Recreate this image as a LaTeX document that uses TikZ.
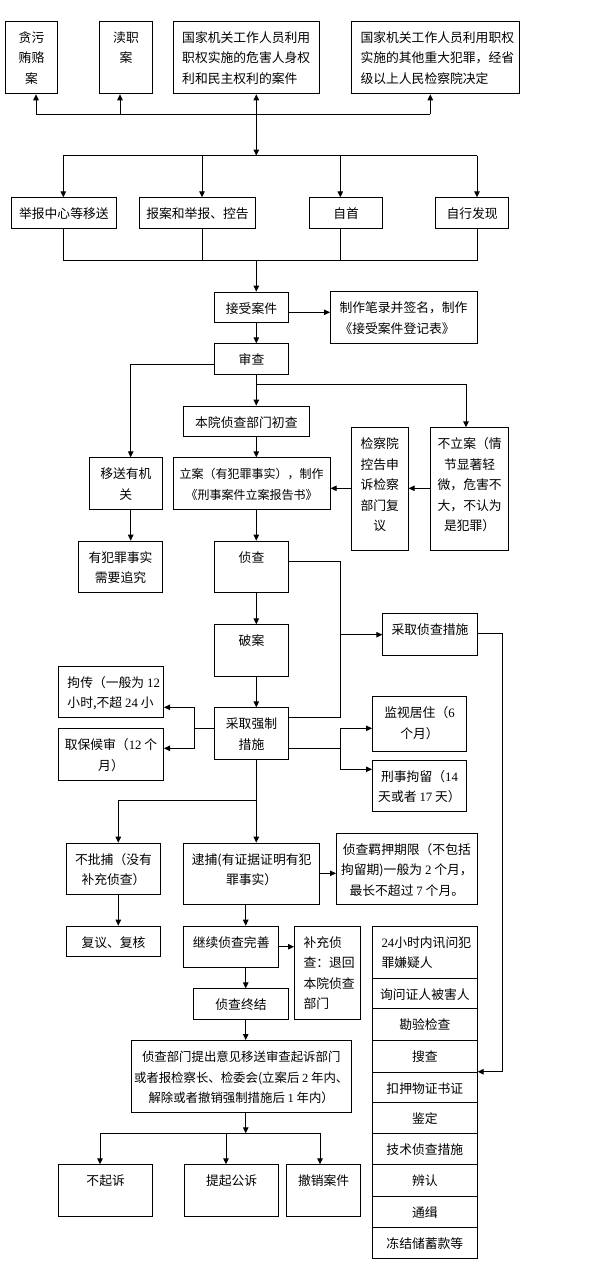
\documentclass[tikz,border=0pt]{standalone}
\usepackage{fontspec}
\setmainfont{Noto Sans CJK SC}
\newfontfamily\nf{Liberation Serif}
\usetikzlibrary{arrows.meta}
\newcommand\bx[7][c]{\node[bxs] (#2) at (#3,#4) {\parbox[c][#6pt][t]{#5pt}{\vspace*{6.8pt}\if l#1\raggedright\leftskip=9pt\else\centering\fi\strut #7}};}
\begin{document}
\begin{tikzpicture}[x=1pt,y=-1pt,line width=1pt,
  bxs/.style={draw,inner sep=0pt,anchor=north west,font=\fontsize{12.8}{20.5}\selectfont},
  arr/.style={-{Triangle[length=6pt,width=5.5pt]}},
  arrtwo/.style={{Triangle[length=6pt,width=5.5pt]}-{Triangle[length=6pt,width=5.5pt]}}]
\fill[white] (0,0) rectangle (598,1278);
\useasboundingbox (0,0) rectangle (598,1278);
% top row
\bx{t1}{4.7}{20.7}{52.6}{72.6}{贪污\\贿赂\\案}
\bx{t2}{99.3}{20.7}{52.4}{72.6}{渎职\\案}
\bx[l]{t3}{172.7}{20.7}{146.6}{72.6}{国家机关工作人员利用\\职权实施的危害人身权\\利和民主权利的案件}
\bx[l]{t4}{351}{20.7}{167.7}{72.6}{国家机关工作人员利用职权\\实施的其他重大犯罪，经省\\级以上人民检察院决定}
% sources
\bx{s1}{11}{197.3}{104.7}{31}{举报中心等移送}
\bx{s2}{139.3}{197.3}{115.4}{31}{报案和举报、控告}
\bx{s3}{309}{197.3}{73.3}{31}{自首}
\bx{s4}{435}{197.3}{73.3}{31}{自行发现}
% main
\bx{js}{214.3}{291.7}{73.4}{30.6}{接受案件}
\bx[l]{zz}{330}{291.3}{146.7}{52}{制作笔录并签名，制作\\《接受案件登记表》}
\bx{sc}{214.3}{343.3}{73.4}{31}{审查}
\bx{cc}{183}{405.7}{125.7}{30.3}{本院侦查部门初查}
\bx{la}{172.7}{457.3}{157}{52}{\fontsize{12}{20.5}\selectfont 立案（有犯罪事实），制作\\《刑事案件立案报告书》}
\bx{ys}{88.7}{457.3}{73.3}{52}{移送有机\\关}
\bx{jc}{350.7}{427.3}{57}{122.7}{检察院\\控告申\\诉检察\\部门复\\议}
\bx{bl}{430.3}{427.3}{77.7}{122.7}{不立案（情\\节显著轻\\微，危害不\\大，不认为\\是犯罪）}
\bx{yf}{78}{540.7}{84}{51.6}{有犯罪事实\\需要追究}
\bx{zc}{214.3}{540.7}{73.4}{51.6}{侦查}
\bx{qc}{382.3}{613.3}{94.4}{42}{采取侦查措施}
\bx{pa}{214.3}{624.3}{73.4}{52}{破案}
\bx{qz}{214.3}{707.3}{73.4}{52}{采取强制\\措施}
\bx[l]{jch}{58}{665.7}{105}{51.6}{拘传（一般为 {\nf 12}\\小时,不超 {\nf 24} 小}
\bx{qb}{58}{728.3}{105}{52}{取保候审（{\nf 12} 个\\月）}
\bx{jszs}{372}{696.3}{94}{55}{监视居住（{\nf 6}\\个月）}
\bx{xj}{372}{759.7}{94}{51.3}{刑事拘留（{\nf 14}\\天或者 {\nf 17} 天）}
\bx{bp}{66}{842.7}{94}{51.6}{不批捕（没有\\补充侦查）}
\bx{db}{183}{842.7}{136.3}{61.6}{逮捕(有证据证明有犯\\罪事实）}
\bx{jy}{336}{832.7}{140.7}{71.6}{侦查羁押期限（不包括\\拘留期)一般为 {\nf 2} 个月，\\最长不超过 {\nf 7} 个月。}
\bx{fy}{66}{925.7}{94}{30.3}{复议、复核}
\bx{jx}{183}{925.7}{95.3}{41.6}{继续侦查完善}
\bx[l]{bc}{294}{925.7}{66.3}{93.6}{补充侦\\查：退回\\本院侦查\\部门}
\bx{zj}{193.3}{988.3}{94.4}{31}{侦查终结}
\bx{ty}{130.7}{1040}{220}{72.3}{\fontsize{12.4}{20.5}\selectfont 侦查部门提出意见移送审查起诉部门\\或者报检察长、检委会(立案后 {\nf 2} 年内、\\解除或者撤销强制措施后 {\nf 1} 年内）}
\bx{bq}{58}{1164.3}{94.3}{51.7}{不起诉}
\bx{tq}{184}{1164.3}{94.3}{51.7}{提起公诉}
\bx{cx}{286}{1164.3}{74.3}{51.7}{撤销案件}
% list of measures
\bx[l]{r1}{372}{925.7}{104.7}{52}{{\nf 24}小时内讯问犯\\罪嫌疑人}
\bx{r2}{372}{977.7}{104.7}{30.6}{询问证人被害人}
\bx{r3}{372}{1008.3}{104.7}{31.7}{勘验检查}
\bx{r4}{372}{1040}{104.7}{31.7}{搜查}
\bx{r5}{372}{1071.7}{104.7}{30.6}{扣押物证书证}
\bx{r6}{372}{1102.3}{104.7}{31}{鉴定}
\bx{r7}{372}{1133.3}{104.7}{31}{技术侦查措施}
\bx{r8}{372}{1164.3}{104.7}{31.7}{辨认}
\bx{r9}{372}{1196}{104.7}{31.3}{通缉}
\bx{r10}{372}{1227.3}{104.7}{31}{冻结储蓄款等}
% coordinates
\coordinate (spine) at (256.3,0);
\coordinate (spineb) at (245.7,0);
\coordinate (b1) at (36,114.3);
\coordinate (b2) at (120,114.3);
\coordinate (b4) at (430.3,114.3);
\coordinate (h2) at (256.3,155.7);
\coordinate (d1) at (63.3,155.7);
\coordinate (d2) at (202,155.7);
\coordinate (d3) at (340.3,155.7);
\coordinate (d4) at (477,155.7);
\coordinate (e1) at (63.3,260.3);
\coordinate (e4) at (477,260.3);
% top connectors
\draw (b1) -- (b4);
\draw[arr] (b1) -- (b1 |- t1.south);
\draw[arr] (b2) -- (b2 |- t2.south);
\draw[arr] (b4) -- (b4 |- t4.south);
\draw[arrtwo] (t3.south -| spine) -- (h2);
\draw (d1) -- (d4);
\draw[arr] (d1) -- (d1 |- s1.north);
\draw[arr] (d2) -- (d2 |- s2.north);
\draw[arr] (d3) -- (d3 |- s3.north);
\draw[arr] (d4) -- (d4 |- s4.north);
\draw (s1.south -| e1) -- (e1) -- (e4) -- (s4.south -| e4);
\draw (s2.south -| d2) -- (d2 |- e1);
\draw (s3.south -| d3) -- (d3 |- e1);
\draw[arr] (e1 -| spine) -- (js.north -| spine);
% acceptance / review
\coordinate (c0) at (0,312.3);
\draw[arr] (js.east |- c0) -- (zz.west |- c0);
\draw[arr] (js.south -| spine) -- (sc.north -| spine);
\coordinate (c1) at (130.7,364.3);
\draw[arr] (sc.west |- c1) -- (c1) -- (c1 |- ys.north);
\draw[arr] (sc.south -| spine) -- (cc.north -| spine);
\coordinate (c2) at (466,384.3);
\draw[arr] (c2 -| spine) -- (c2) -- (c2 |- bl.north);
\draw[arr] (cc.south -| spine) -- (la.north -| spine);
\coordinate (c3) at (0,488.3);
\draw[arr] (bl.west |- c3) -- (jc.east |- c3);
\draw[arr] (jc.west |- c3) -- (la.east |- c3);
\draw[arr] (ys.south -| c1) -- (yf.north -| c1);
\draw[arr] (la.south -| spine) -- (zc.north -| spine);
% investigation
\coordinate (c4) at (340.3,561);
\coordinate (c5) at (340.3,717);
\coordinate (c6) at (340.3,634.7);
\draw (zc.east |- c4) -- (c4) -- (c5) -- (qz.east |- c5);
\draw[arr] (c6) -- (qc.west |- c6);
\coordinate (c7) at (502.7,633.3);
\coordinate (c8) at (502.7,1071.7);
\draw[arr] (qc.east |- c7) -- (c7) -- (c8) -- (r5.east |- c8);
\draw[arr] (zc.south -| spine) -- (pa.north -| spine);
\draw[arr] (pa.south -| spine) -- (qz.north -| spine);
% coercive measures
\coordinate (c9) at (194.3,728.3);
\coordinate (c10) at (194.3,707.3);
\coordinate (c11) at (194.3,748.3);
\draw (qz.west |- c9) -- (c9);
\draw[arr] (c9) -- (c10) -- (jch.east |- c10);
\draw[arr] (c9) -- (c11) -- (qb.east |- c11);
\coordinate (c12) at (340.3,748.3);
\coordinate (c13) at (340.3,728.3);
\coordinate (c14) at (340.3,769.3);
\draw (qz.east |- c12) -- (c12);
\draw[arr] (c12) -- (c13) -- (jszs.west |- c13);
\draw[arr] (c12) -- (c14) -- (xj.west |- c14);
% arrest
\coordinate (c15) at (256.3,800.3);
\coordinate (c16) at (118.3,800.3);
\draw[arr] (qz.south -| spine) -- (db.north -| spine);
\draw[arr] (c15) -- (c16) -- (c16 |- bp.north);
\coordinate (c17) at (0,873.3);
\draw[arr] (db.east |- c17) -- (jy.west |- c17);
\draw[arr] (bp.south -| c16) -- (fy.north -| c16);
\draw[arr] (db.south -| spineb) -- (jx.north -| spineb);
\coordinate (c18) at (0,946.7);
\draw[arr] (jx.east |- c18) -- (bc.west |- c18);
\draw[arr] (jx.south -| spineb) -- (zj.north -| spineb);
\draw[arr] (zj.south -| spineb) -- (ty.north -| spineb);
% outcomes
\coordinate (c19) at (245.7,1133.3);
\coordinate (f1) at (100,1133.3);
\coordinate (f2) at (226,1133.3);
\coordinate (f3) at (320,1133.3);
\draw[arr] (ty.south -| spineb) -- (c19);
\draw (f1) -- (f3);
\draw[arr] (f1) -- (f1 |- bq.north);
\draw[arr] (f2) -- (f2 |- tq.north);
\draw[arr] (f3) -- (f3 |- cx.north);
\end{tikzpicture}
\end{document}
